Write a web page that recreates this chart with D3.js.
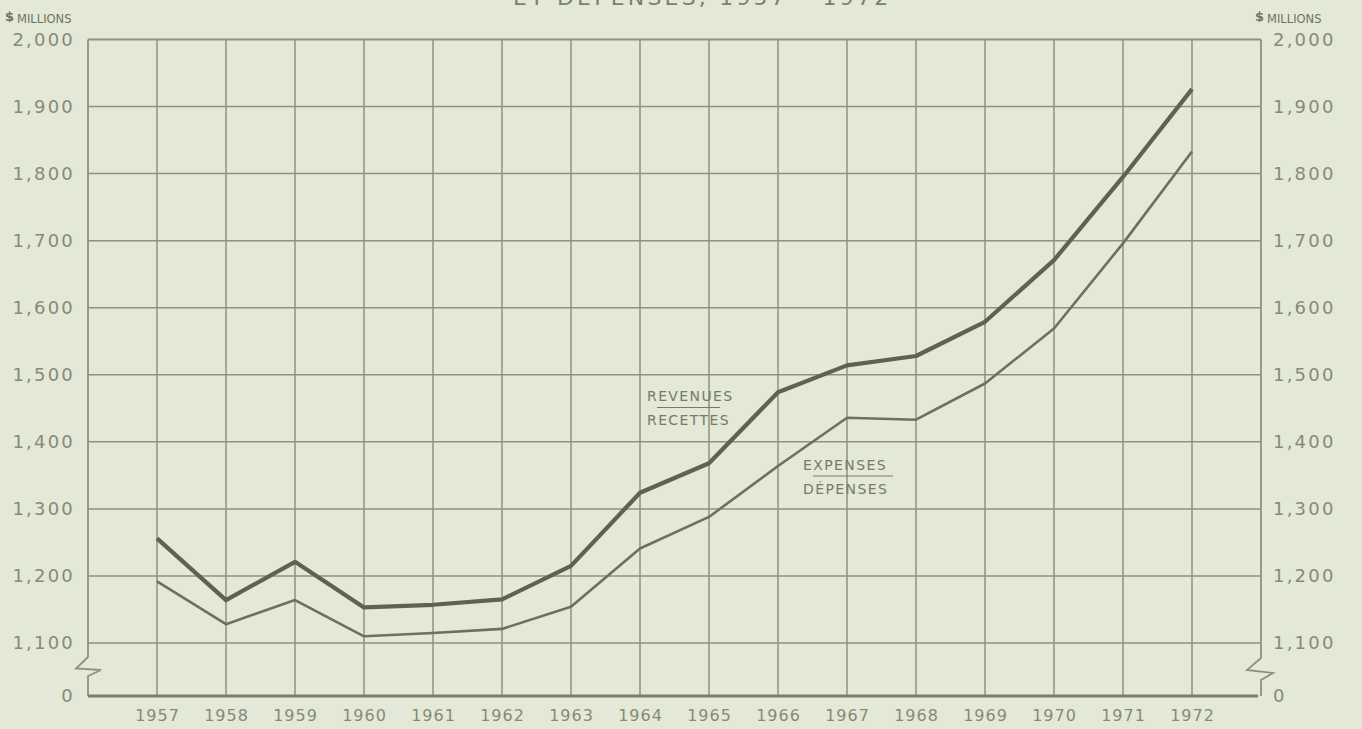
<!DOCTYPE html>
<html>
<head>
<meta charset="utf-8">
<script src="https://cdn.jsdelivr.net/npm/d3@7"></script>
<style>
  html, body { margin: 0; padding: 0; background: #e4e8d6; overflow: hidden; }
  svg { display: block; }
  text { font-family: "DejaVu Sans", sans-serif; }
</style>
</head>
<body>
<svg width="1362" height="729"></svg>
<script>
// data
const years = [1957, 1958, 1959, 1960, 1961, 1962, 1963, 1964, 1965, 1966, 1967, 1968, 1969, 1970, 1971, 1972];
const revenues = [1256, 1164, 1221, 1153, 1157, 1165, 1215, 1324, 1368, 1474, 1514, 1528, 1579, 1671, 1795, 1926];
const expenses = [1192, 1128, 1164, 1110, 1115, 1121, 1154, 1241, 1288, 1364, 1436, 1433, 1487, 1569, 1696, 1833];
const yTicks = [0, 1100, 1200, 1300, 1400, 1500, 1600, 1700, 1800, 1900, 2000];
const titleText = "ET DÉPENSES, 1957 – 1972";

const svg = d3.select("svg");
const gridColor = "#8e927d";
const labelColor = "#878a77";

svg.append("rect").attr("width", 1362).attr("height", 729).attr("fill", "#e4e8d6");

// scales: x has one empty step on each side, y is broken between 0 and 1,100
const x = d3.scaleLinear().domain([1956, 1973]).range([88, 1261]);
const y = d3.scaleLinear().domain([0, 1100, 2000]).range([696, 643, 39.5]);

const left = x.range()[0], right = x.range()[1];

// title (cut off at the top of the page, as in the scan)
svg.append("text")
    .attr("x", 513)
    .attr("y", 5)
    .attr("fill", "#7c806c")
    .style("font-size", "22px")
    .style("letter-spacing", "3.2px")
    .text(titleText);

// horizontal grid
svg.append("g").selectAll("line")
    .data(yTicks.filter(d => d > 0))
    .enter().append("line")
    .attr("x1", left).attr("x2", right)
    .attr("y1", d => y(d)).attr("y2", d => y(d))
    .attr("stroke", gridColor)
    .attr("stroke-width", d => d === 2000 ? 1.8 : 1.5);

// vertical grid
svg.append("g").selectAll("line")
    .data(years)
    .enter().append("line")
    .attr("x1", d => x(d)).attr("x2", d => x(d))
    .attr("y1", y(2000)).attr("y2", y(0))
    .attr("stroke", gridColor)
    .attr("stroke-width", 1.5);

// side borders with break marks
const breakY = y(0) - 39;
const leftBorder = [[left, y(2000)], [left, breakY], [left - 12, breakY + 11.5], [left + 13, breakY + 13], [left, breakY + 19], [left, y(0)]];
const rightBorder = [[right, y(2000)], [right, breakY + 1], [right - 14, breakY + 13], [right + 12, breakY + 16], [right, breakY + 23], [right, y(0)]];
[leftBorder, rightBorder].forEach(pts => {
    svg.append("path")
        .attr("d", d3.line()(pts))
        .attr("fill", "none")
        .attr("stroke", gridColor)
        .attr("stroke-width", 1.8)
        .attr("stroke-linejoin", "miter");
});

// zero line
svg.append("line")
    .attr("x1", left).attr("x2", right - 3)
    .attr("y1", y(0)).attr("y2", y(0))
    .attr("stroke", "#7a7e69")
    .attr("stroke-width", 3);

// axes
const fmt = d3.format(",");
const yLeft = svg.append("g")
    .attr("transform", `translate(${left},0)`)
    .call(d3.axisLeft(y).tickValues(yTicks).tickFormat(fmt).tickSize(0).tickPadding(13));
const yRight = svg.append("g")
    .attr("transform", `translate(${right},0)`)
    .call(d3.axisRight(y).tickValues(yTicks).tickFormat(fmt).tickSize(0).tickPadding(12));
const xAxis = svg.append("g")
    .attr("transform", `translate(0,${y(0)})`)
    .call(d3.axisBottom(x).tickValues(years).tickFormat(d3.format("d")).tickSize(0).tickPadding(14));

[yLeft, yRight, xAxis].forEach(a => {
    a.select(".domain").remove();
    a.selectAll("text")
        .attr("fill", labelColor)
        .style("font-size", "18px")
        .style("font-family", "'DejaVu Sans', sans-serif");
});
yLeft.selectAll("text").style("letter-spacing", "2.2px");
yRight.selectAll("text").style("letter-spacing", "2.2px");
xAxis.selectAll("text").style("letter-spacing", "1px").style("font-size", "16px");

// "$ MILLIONS" units
[5, 1255].forEach(ux => {
    const t = svg.append("text")
        .attr("x", ux)
        .attr("y", 23)
        .attr("fill", "#6f735f");
    t.append("tspan").style("font-size", "13px").style("font-weight", "bold").attr("dy", -2).text("$");
    t.append("tspan").style("font-size", "11.5px").attr("dx", 3).attr("dy", 2).text("MILLIONS");
});

// lines
const line = d3.line()
    .x((d, i) => x(years[i]))
    .y(d => y(d));

svg.append("path")
    .attr("d", line(expenses))
    .attr("fill", "none")
    .attr("stroke", "#6c705c")
    .attr("stroke-width", 2.6)
    .attr("stroke-linejoin", "round");

svg.append("path")
    .attr("d", line(revenues))
    .attr("fill", "none")
    .attr("stroke", "#5e624f")
    .attr("stroke-width", 4.2)
    .attr("stroke-linejoin", "round");

// line labels
function seriesLabel(x0, yTop, top, bottom, ruleW) {
    const g = svg.append("g").attr("fill", "#767a66");
    g.append("text").attr("x", x0).attr("y", yTop)
        .style("font-size", "14px").style("letter-spacing", "1.4px").text(top);
    g.append("line")
        .attr("x1", x0 + 10).attr("x2", x0 + 10 + ruleW)
        .attr("y1", yTop + 6.5).attr("y2", yTop + 6.5)
        .attr("stroke", "#767a66").attr("stroke-width", 1.2);
    g.append("text").attr("x", x0).attr("y", yTop + 24)
        .style("font-size", "14px").style("letter-spacing", "1.4px").text(bottom);
}
seriesLabel(647, 401, "REVENUES", "RECETTES", 63);
seriesLabel(803, 469.5, "EXPENSES", "DÉPENSES", 80);
</script>
</body>
</html>
